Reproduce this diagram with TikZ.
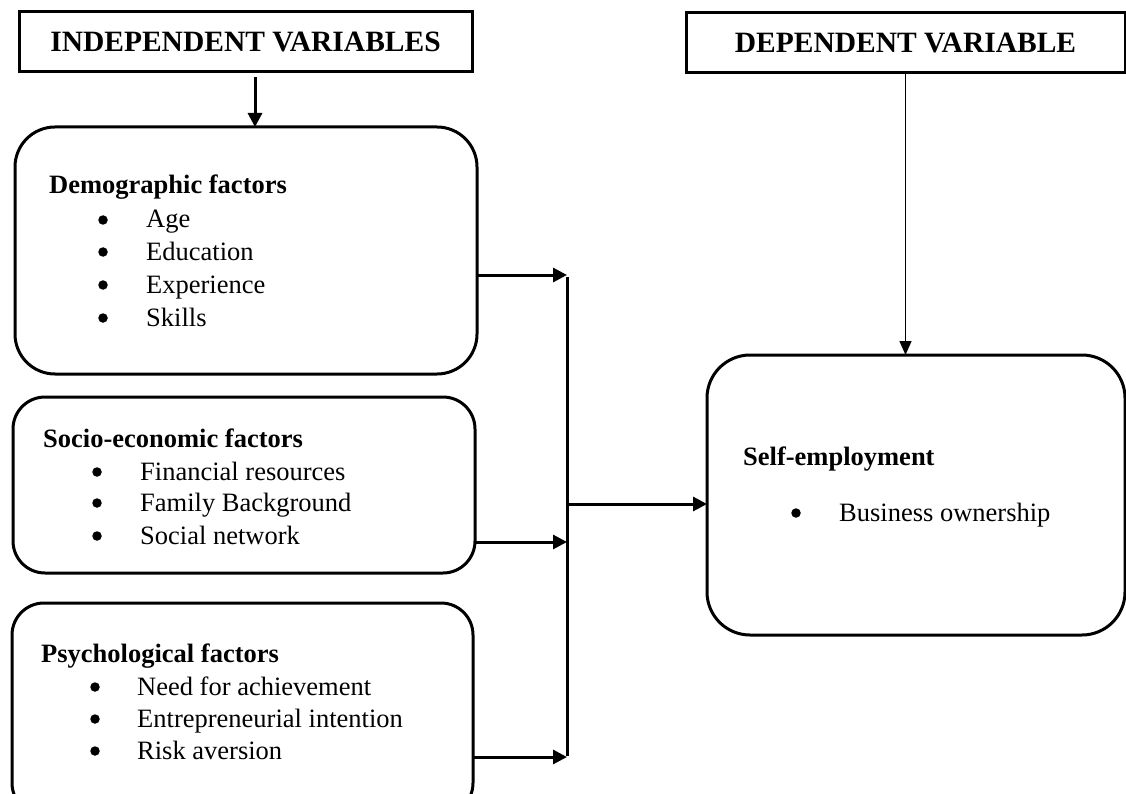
\documentclass[tikz,border=0pt]{standalone}
\usepackage{fontspec}
\setmainfont{Liberation Serif}
\usetikzlibrary{arrows.meta}
\begin{document}
\begin{tikzpicture}[x=1pt,y=-1pt,
  titlebox/.style={draw,line width=3pt,inner sep=0pt,outer sep=0pt,font=\fontsize{29.5}{36}\selectfont\bfseries},
  factorbox/.style={draw,line width=3pt,rounded corners=#1,inner sep=0pt,outer sep=0pt},
  head/.style={anchor=base west,inner sep=0pt,font=\fontsize{26.5}{32}\selectfont\bfseries},
  itemtext/.style={anchor=base west,inner sep=0pt,font=\fontsize{26.5}{32}\selectfont},
  bul/.style={circle,fill,inner sep=0pt,minimum size=9.5pt},
  conn/.style={line width=3pt,-{Triangle[length=14pt,width=14pt]}},
  thinconn/.style={line width=1.5pt,-{Triangle[length=14pt,width=12pt]}},
  busline/.style={line width=3pt}]
\useasboundingbox (0,0) rectangle (1126,794);
\clip (0,0) rectangle (1126,794);

% title boxes
\node[titlebox,minimum width=453pt,minimum height=60pt] (indep) at (245.5,42) {INDEPENDENT VARIABLES};
\node[titlebox,minimum width=439pt,minimum height=60pt] (dep) at (905.5,43) {DEPENDENT VARIABLE};

% factor boxes
\node[factorbox=40pt,minimum width=462pt,minimum height=247pt] (demo) at (246,250.5) {};
\node[factorbox=32pt,minimum width=462pt,minimum height=176pt] (socio) at (244,485) {};
\node[factorbox=32pt,minimum width=461pt,minimum height=212pt] (psych) at (242.5,709) {};
\node[factorbox=43pt,minimum width=418pt,minimum height=280pt] (self) at (916,495) {};

% demographic text
\node[head] (dh) at (49,194) {Demographic factors};
\node[bul] (db1) at (103,220) {};
\node[itemtext] (dt1) at (146,228) {Age};
\node[bul] (db2) at (103,252) {};
\node[itemtext] (dt2) at (146,260) {Education};
\node[bul] (db3) at (103,285) {};
\node[itemtext] (dt3) at (146,293) {Experience};
\node[bul] (db4) at (103,318) {};
\node[itemtext] (dt4) at (146,326) {Skills};

% socio-economic text
\node[head] (sh) at (43,447) {Socio-economic factors};
\node[bul] (sb1) at (97,472) {};
\node[itemtext] (st1) at (140,480) {Financial resources};
\node[bul] (sb2) at (97,503) {};
\node[itemtext] (st2) at (140,511) {Family Background};
\node[bul] (sb3) at (97,536) {};
\node[itemtext] (st3) at (140,544) {Social network};

% psychological text
\node[head] (ph) at (41,662) {Psychological factors};
\node[bul] (pb1) at (95,687) {};
\node[itemtext] (pt1) at (137,695) {Need for achievement};
\node[bul] (pb2) at (95,719) {};
\node[itemtext] (pt2) at (137,727) {Entrepreneurial intention};
\node[bul] (pb3) at (95,751) {};
\node[itemtext] (pt3) at (137,759) {Risk aversion};

% self-employment text
\node[head] (eh) at (743,465) {Self-employment};
\node[bul] (eb1) at (796,513) {};
\node[itemtext] (et1) at (839,521) {Business ownership};

% bus and connectors
\coordinate (btop) at (567,275);
\coordinate (bsoc) at (567,542);
\coordinate (bmid) at (567,504);
\coordinate (bbot) at (567,757);
\coordinate (istart) at (255,77);

\draw[busline] ([yshift=-1.5pt]btop) -- ([yshift=1.5pt]bbot);
\draw[conn] (btop -| demo.east) -- (btop);
\draw[conn] (bsoc -| socio.east) -- (bsoc);
\draw[conn] (bbot -| psych.east) -- (bbot);
\draw[conn] (bmid) -- (bmid -| self.west);
\draw[conn] (istart) -- (istart |- demo.north);
\draw[thinconn] (dep.south) -- (dep.south |- self.north);
\end{tikzpicture}
\end{document}
